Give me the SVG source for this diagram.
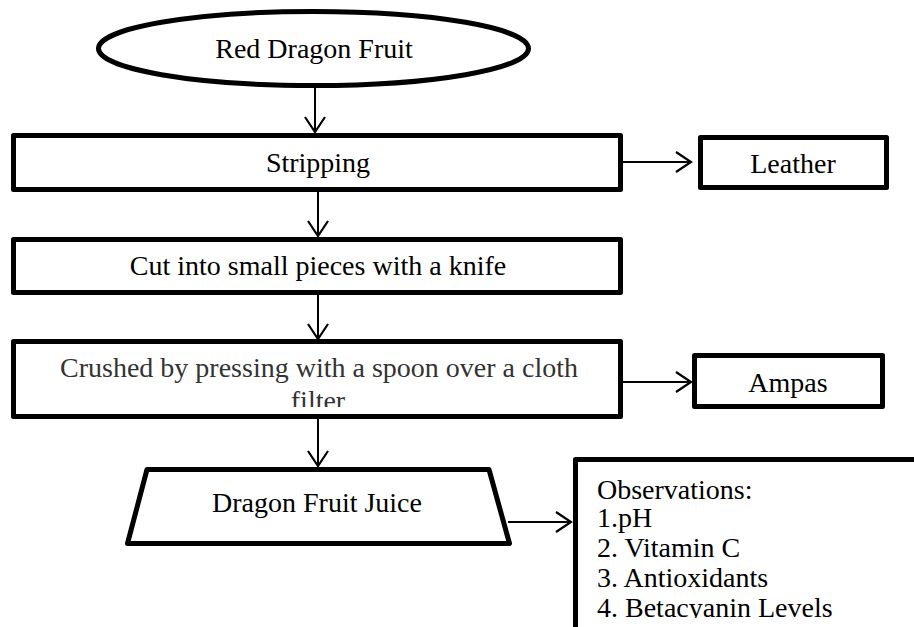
<svg xmlns="http://www.w3.org/2000/svg" width="914" height="627" viewBox="0 0 914 627">
<style>
.box{fill:#fff;stroke:#000;stroke-width:5;stroke-linejoin:round}
.t{font-family:"Liberation Serif","Times New Roman",serif;font-size:28px;fill:#000}
.c{text-anchor:middle}
.g{fill:#333}
.ln{fill:none;stroke:#000;stroke-width:2}
</style>
<defs>
<marker id="ah" viewBox="0 0 20 22" refX="17" refY="11" markerWidth="20" markerHeight="22" markerUnits="userSpaceOnUse" orient="auto">
<path d="M2,1 L17,11 L2,21" fill="none" stroke="#000" stroke-width="2.2"/>
</marker>
<clipPath id="crushClip"><rect x="16" y="344" width="603" height="63"/></clipPath>
<clipPath id="obsClip"><rect x="578" y="462" width="336" height="156"/></clipPath>
</defs>
<rect width="914" height="627" fill="#fff"/>
<g id="connectors">
<line class="ln" x1="315" y1="88" x2="315" y2="132" marker-end="url(#ah)"/>
<line class="ln" x1="318" y1="192" x2="318" y2="236" marker-end="url(#ah)"/>
<line class="ln" x1="318" y1="295" x2="318" y2="339" marker-end="url(#ah)"/>
<line class="ln" x1="318" y1="419" x2="318" y2="466" marker-end="url(#ah)"/>
<line class="ln" x1="623" y1="162" x2="691" y2="162" marker-end="url(#ah)"/>
<line class="ln" x1="623" y1="382" x2="691" y2="382" marker-end="url(#ah)"/>
<line class="ln" x1="508" y1="522" x2="571" y2="522" marker-end="url(#ah)"/>
</g>
<g id="red-dragon-fruit">
<ellipse class="box" cx="313.5" cy="48.5" rx="215" ry="37"/>
<text class="t c" x="314" y="58">Red Dragon Fruit</text>
</g>
<g id="stripping">
<rect class="box" x="13.5" y="135.5" width="607" height="54"/>
<text class="t c" x="318" y="172">Stripping</text>
</g>
<g id="leather">
<rect class="box" x="700.5" y="137.5" width="186" height="50"/>
<text class="t c" x="793" y="173">Leather</text>
</g>
<g id="cut">
<rect class="box" x="13.5" y="239.5" width="607" height="53"/>
<text class="t c" x="318" y="275">Cut into small pieces with a knife</text>
</g>
<g id="crushed">
<rect class="box" x="13.5" y="341.5" width="607" height="75"/>
<g clip-path="url(#crushClip)">
<text class="t c g" x="319" y="377">Crushed by pressing with a spoon over a cloth</text>
<text class="t c g" x="318" y="410">filter</text>
</g>
</g>
<g id="ampas">
<rect class="box" x="694.5" y="355.5" width="188" height="51"/>
<text class="t c" x="788" y="392">Ampas</text>
</g>
<g id="juice">
<path class="box" d="M147,469.5 L489,469.5 L509.5,543.5 L127.5,543.5 Z"/>
<text class="t c" x="317" y="512">Dragon Fruit Juice</text>
</g>
<g id="observations">
<rect class="box" x="575.5" y="459.5" width="400" height="220"/>
<g clip-path="url(#obsClip)">
<text class="t" x="597" y="499">Observations:</text>
<text class="t" x="597" y="527">1.pH</text>
<text class="t" x="597" y="557">2. Vitamin C</text>
<text class="t" x="597" y="587">3. Antioxidants</text>
<text class="t" x="597" y="617">4. Betacyanin Levels</text>
</g>
</g>
</svg>
